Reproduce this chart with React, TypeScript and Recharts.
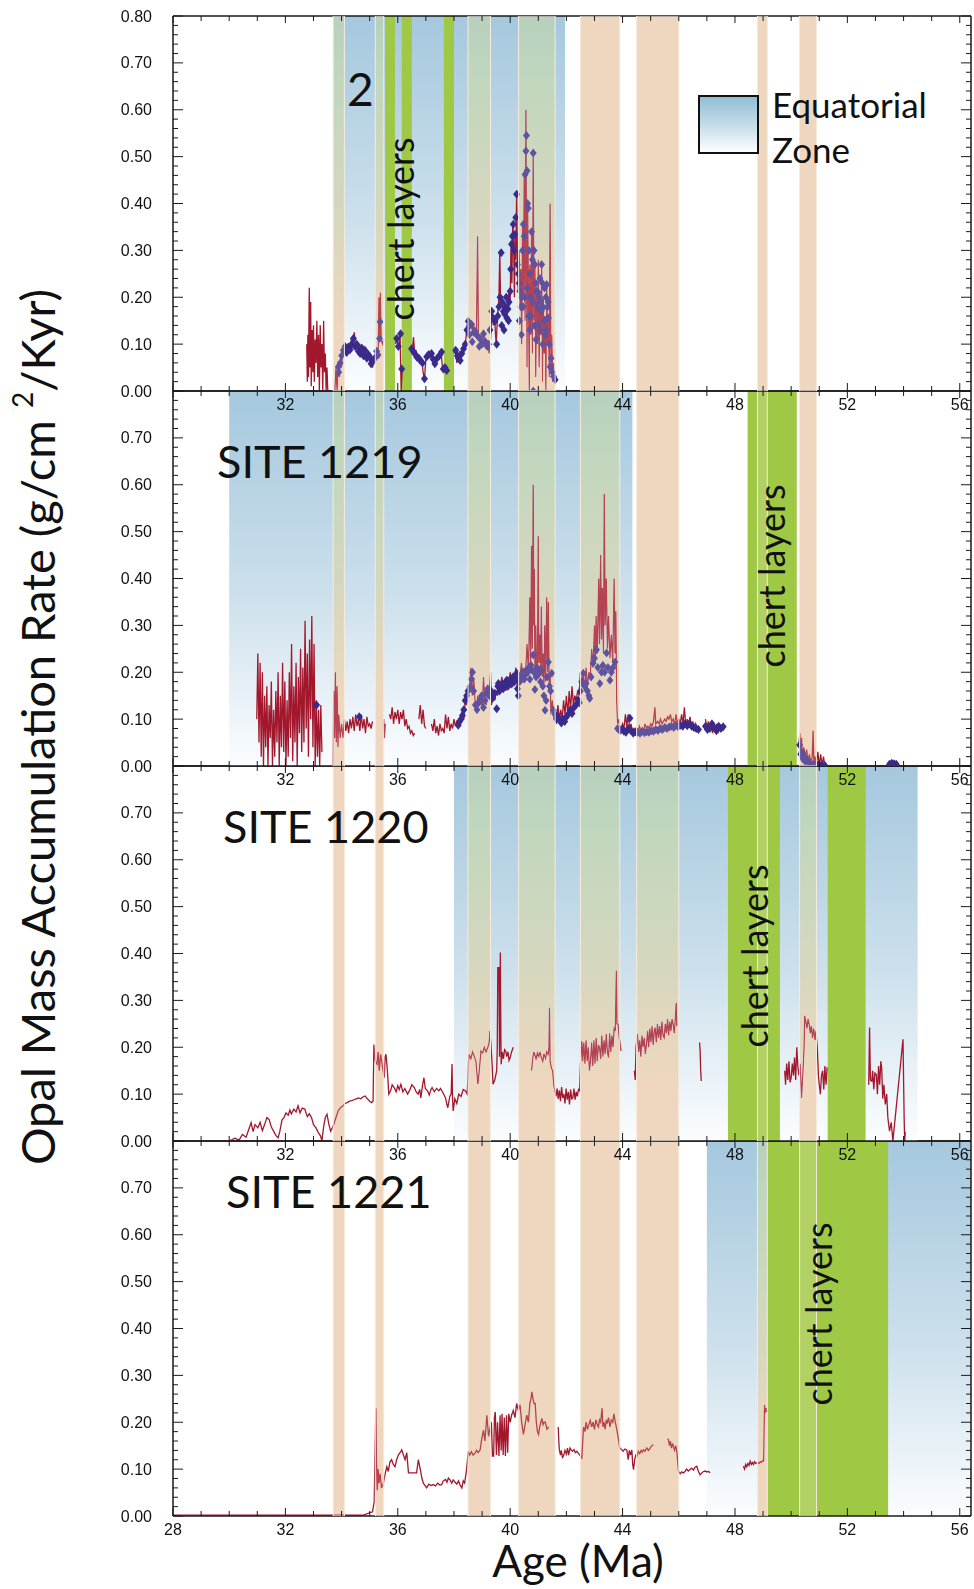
import React from 'react';
import {
  ComposedChart,
  Line,
  Scatter,
  XAxis,
  YAxis,
  ReferenceArea,
} from 'recharts';

type Pair = [number, number | null];
type Span = [number, number];

// axis ticks
const ageTicks = [28, 29, 30, 31, 32, 33, 34, 35, 36, 37, 38, 39, 40, 41, 42, 43, 44, 45, 46, 47, 48, 49, 50, 51, 52, 53, 54, 55, 56];
const ageLabelTicks = [28, 32, 36, 40, 44, 48, 52, 56];
const marTicks = [0, 0.02, 0.04, 0.06, 0.08, 0.1, 0.12, 0.14, 0.16, 0.18, 0.2, 0.22, 0.24, 0.26, 0.28, 0.3, 0.32, 0.34, 0.36, 0.38, 0.4, 0.42, 0.44, 0.46, 0.48, 0.5, 0.52, 0.54, 0.56, 0.58, 0.6, 0.62, 0.64, 0.66, 0.68, 0.7, 0.72, 0.74, 0.76, 0.78, 0.8];
const marLabelTicks = [0, 0.1, 0.2, 0.3, 0.4, 0.5, 0.6, 0.7, 0.8];

// shaded intervals (Ma)
const warmEvents: Span[] = [[33.7, 34.1], [35.2, 35.5], [38.5, 39.3], [40.3, 41.6], [42.5, 43.9], [44.5, 46.0], [48.8, 49.15], [50.3, 50.9]];
const zone1218: Span[] = [[33.7, 41.95]];
const chert1218: Span[] = [[35.55, 35.9], [36.14, 36.5], [37.64, 38.0]];
const zone1219: Span[] = [[30.0, 44.35]];
const chert1219: Span[] = [[48.45, 50.2]];
const zone1220: Span[] = [[38.0, 54.5]];
const chert1220: Span[] = [[47.75, 49.6], [51.3, 52.65]];
const zone1221: Span[] = [[47.0, 56.4]];
const chert1221: Span[] = [[49.15, 53.45]];

// panel 1 (site "2")
const site1218Line: Pair[] = [
  [32.76, 0.1], [32.78, 0.02], [32.8, 0.12], [32.82, 0.03], [32.85, 0.22], [32.87, 0.05], [32.9, 0.19], [32.92, 0.01], [32.95, 0.13], [32.98, 0.04], [33.0, 0.14], [33.03, 0.02], [33.06, 0.11], [33.09, 0.06], [33.12, 0.15], [33.15, 0.03], [33.18, 0.12], [33.21, 0.0], [33.24, 0.14], [33.27, 0.05], [33.3, 0.1], [33.33, 0.0], [33.36, 0.15], [33.39, 0.04], [33.42, 0.08], [33.45, 0.0], [33.48, 0.05], [33.51, 0.0],
  [33.6, null],
  [33.76, 0.0], [33.8, 0.05], [33.84, 0.0], [33.88, 0.06], [33.92, 0.03], [33.96, 0.07], [34.0, 0.05], [34.04, 0.09], [34.08, 0.08], [34.1, 0.085], [34.15, 0.095], [34.2, 0.08], [34.25, 0.1], [34.3, 0.09], [34.35, 0.11], [34.4, 0.1], [34.45, 0.125], [34.5, 0.09], [34.55, 0.105], [34.6, 0.085], [34.65, 0.1], [34.7, 0.075], [34.75, 0.095], [34.8, 0.08], [34.85, 0.09], [34.9, 0.065], [34.95, 0.08], [35.0, 0.06], [35.05, 0.075], [35.1, 0.05], [35.15, 0.07], [35.2, 0.06], [35.25, 0.09], [35.3, 0.08], [35.33, 0.2], [35.36, 0.12], [35.38, 0.21], [35.41, 0.11], [35.45, 0.1], [35.5, 0.11],
  [35.7, null],
  [35.92, 0.1], [35.96, 0.115], [36.02, 0.09], [36.08, 0.125], [36.12, 0.0], [36.16, 0.05],
  [36.3, null],
  [36.52, 0.09], [36.56, 0.115], [36.6, 0.08], [36.65, 0.085], [36.7, 0.07], [36.75, 0.075], [36.8, 0.06], [36.85, 0.07], [36.9, 0.04], [36.95, 0.025], [37.0, 0.07], [37.05, 0.075], [37.1, 0.085], [37.15, 0.07], [37.2, 0.08], [37.25, 0.065], [37.3, 0.055], [37.35, 0.065], [37.4, 0.075], [37.45, 0.08], [37.5, 0.085], [37.55, 0.075], [37.6, 0.045], [37.64, 0.05],
  [37.8, null],
  [38.0, 0.08], [38.05, 0.09], [38.1, 0.06], [38.15, 0.075], [38.2, 0.085], [38.25, 0.07], [38.3, 0.09], [38.35, 0.1], [38.4, 0.095], [38.45, 0.13], [38.5, 0.15], [38.55, 0.14], [38.6, 0.15], [38.65, 0.13], [38.7, 0.14], [38.75, 0.12], [38.8, 0.13], [38.84, 0.33], [38.87, 0.12], [38.9, 0.11], [38.95, 0.12], [39.0, 0.1], [39.05, 0.125], [39.1, 0.11], [39.15, 0.09], [39.2, 0.105], [39.25, 0.08], [39.3, 0.11], [39.35, 0.17], [39.4, 0.14], [39.45, 0.15], [39.5, 0.1], [39.55, 0.16], [39.6, 0.2], [39.63, 0.3], [39.66, 0.18], [39.7, 0.2], [39.75, 0.16], [39.8, 0.19], [39.85, 0.15], [39.9, 0.17], [39.95, 0.21], [40.0, 0.19], [40.03, 0.32], [40.06, 0.23], [40.09, 0.36], [40.12, 0.33], [40.15, 0.2], [40.18, 0.34], [40.2, 0.28], [40.23, 0.42], [40.26, 0.27], [40.29, 0.21], [40.32, 0.3], [40.35, 0.18], [40.38, 0.26], [40.41, 0.1], [40.44, 0.35], [40.47, 0.2], [40.5, 0.46], [40.53, 0.15], [40.56, 0.6], [40.58, 0.3], [40.6, 0.05], [40.62, 0.4], [40.65, 0.22], [40.68, 0.0], [40.7, 0.27], [40.73, 0.12], [40.76, 0.34], [40.79, 0.08], [40.82, 0.5], [40.85, 0.15], [40.88, 0.27], [40.91, 0.03], [40.94, 0.22], [40.97, 0.1], [41.0, 0.28], [41.03, 0.05], [41.06, 0.18], [41.09, 0.12], [41.12, 0.27], [41.15, 0.02], [41.18, 0.2], [41.21, 0.08], [41.24, 0.16], [41.27, 0.0], [41.3, 0.23], [41.33, 0.1], [41.36, 0.16], [41.39, 0.03], [41.42, 0.4], [41.45, 0.05], [41.48, 0.12], [41.51, 0.02], [41.54, 0.06], [41.57, 0.02], [41.6, 0.03],
];

const site1218Dots: Pair[] = [
  [33.88, 0.052], [33.9, 0.04], [33.95, 0.06], [34.0, 0.075], [34.06, 0.087], [34.12, 0.095], [34.18, 0.082], [34.24, 0.094], [34.3, 0.088], [34.36, 0.1], [34.42, 0.112], [34.48, 0.095], [34.54, 0.1], [34.6, 0.085], [34.66, 0.08], [34.72, 0.092], [34.78, 0.075], [34.83, 0.087], [34.9, 0.07], [34.95, 0.078], [35.0, 0.073], [35.05, 0.058], [35.1, 0.062], [35.18, 0.07], [35.25, 0.085], [35.3, 0.077], [35.35, 0.112], [35.37, 0.148],
  [35.96, 0.112], [36.02, 0.095], [36.1, 0.122], [36.14, 0.047], [36.49, 0.09], [36.55, 0.085], [36.6, 0.08], [36.68, 0.072], [36.75, 0.07], [36.8, 0.065], [36.88, 0.06], [36.95, 0.026], [37.03, 0.073], [37.1, 0.078], [37.2, 0.08], [37.26, 0.068], [37.32, 0.058], [37.4, 0.07], [37.48, 0.075], [37.56, 0.083], [37.62, 0.047], [37.68, 0.05], [37.74, 0.044],
  [38.06, 0.087], [38.12, 0.075], [38.16, 0.07], [38.22, 0.065], [38.28, 0.08], [38.34, 0.09], [38.4, 0.1], [38.46, 0.13], [38.51, 0.149], [38.55, 0.12], [38.56, 0.14], [38.63, 0.142], [38.65, 0.105], [38.7, 0.125], [38.75, 0.128], [38.8, 0.12], [38.87, 0.115], [38.9, 0.095], [38.95, 0.11], [39.0, 0.1], [39.05, 0.122], [39.12, 0.105], [39.18, 0.095], [39.23, 0.1], [39.28, 0.13], [39.34, 0.17], [39.4, 0.155], [39.46, 0.149], [39.52, 0.1], [39.56, 0.16], [39.6, 0.18], [39.64, 0.2], [39.68, 0.295], [39.7, 0.14], [39.72, 0.19], [39.76, 0.17], [39.78, 0.13], [39.8, 0.165], [39.84, 0.18], [39.86, 0.2], [39.88, 0.156], [39.92, 0.175], [39.94, 0.15], [39.96, 0.19],
  [40.0, 0.213], [40.02, 0.26], [40.05, 0.313], [40.08, 0.33], [40.11, 0.356], [40.14, 0.3], [40.17, 0.334], [40.2, 0.37], [40.23, 0.42], [40.26, 0.27], [40.29, 0.25], [40.32, 0.23], [40.33, 0.15], [40.35, 0.213], [40.38, 0.18], [40.4, 0.12], [40.41, 0.2], [40.44, 0.3], [40.46, 0.18], [40.47, 0.356], [40.5, 0.33], [40.52, 0.2], [40.53, 0.462], [40.56, 0.512], [40.58, 0.545], [40.6, 0.47], [40.6, 0.22], [40.62, 0.4], [40.64, 0.39], [40.66, 0.16], [40.67, 0.3], [40.7, 0.25], [40.7, 0.13], [40.72, 0.2], [40.74, 0.16], [40.76, 0.34], [40.79, 0.28], [40.8, 0.19], [40.82, 0.508], [40.82, 0.0], [40.85, 0.3], [40.86, 0.14], [40.88, 0.27], [40.91, 0.23], [40.92, 0.11], [40.94, 0.213], [40.97, 0.18], [41.0, 0.142], [41.0, 0.21], [41.03, 0.2], [41.05, 0.13], [41.06, 0.24], [41.09, 0.19], [41.1, 0.17], [41.12, 0.27], [41.15, 0.23], [41.16, 0.1], [41.18, 0.178], [41.21, 0.15], [41.22, 0.22], [41.24, 0.12], [41.27, 0.2], [41.28, 0.13], [41.3, 0.227], [41.33, 0.18], [41.35, 0.19], [41.36, 0.156], [41.39, 0.1], [41.42, 0.052], [41.46, 0.07], [41.5, 0.04], [41.54, 0.031], [41.6, 0.024],
];

// panel 2, SITE 1219
const site1219Line: Pair[] = [
  [30.98, 0.1], [31.02, 0.24], [31.06, 0.05], [31.1, 0.22], [31.14, 0.02], [31.18, 0.2], [31.22, 0.0], [31.26, 0.15], [31.3, 0.04], [31.34, 0.17], [31.38, 0.0], [31.42, 0.13], [31.46, 0.06], [31.5, 0.18], [31.54, 0.0], [31.58, 0.12], [31.62, 0.02], [31.66, 0.16], [31.7, 0.05], [31.74, 0.2], [31.78, 0.0], [31.82, 0.15], [31.86, 0.04], [31.9, 0.22], [31.94, 0.03], [31.98, 0.18], [32.02, 0.0], [32.06, 0.14], [32.1, 0.02], [32.14, 0.2], [32.18, 0.06], [32.22, 0.26], [32.26, 0.01], [32.3, 0.17], [32.34, 0.05], [32.38, 0.22], [32.42, 0.0], [32.46, 0.19], [32.5, 0.07], [32.54, 0.25], [32.58, 0.03], [32.62, 0.21], [32.66, 0.05], [32.7, 0.31], [32.74, 0.08], [32.78, 0.24], [32.82, 0.02], [32.86, 0.27], [32.9, 0.1], [32.94, 0.32], [32.98, 0.04], [33.02, 0.26], [33.06, 0.0], [33.1, 0.14], [33.14, 0.02], [33.18, 0.12], [33.22, 0.0], [33.26, 0.13], [33.3, 0.03],
  [33.5, null],
  [33.7, 0.0], [33.72, 0.16], [33.75, 0.06], [33.78, 0.2], [33.81, 0.05], [33.84, 0.17], [33.87, 0.04], [33.9, 0.11], [33.95, 0.06], [34.0, 0.09], [34.05, 0.06], [34.1, 0.1], [34.15, 0.075], [34.2, 0.095], [34.25, 0.07], [34.3, 0.1], [34.35, 0.08], [34.4, 0.105], [34.45, 0.075], [34.5, 0.11], [34.55, 0.085], [34.6, 0.1], [34.65, 0.075], [34.7, 0.11], [34.75, 0.08], [34.8, 0.1], [34.85, 0.07], [34.9, 0.105], [34.95, 0.085], [35.0, 0.09], [35.05, 0.08], [35.1, 0.095],
  [35.3, null],
  [35.5, 0.1], [35.52, 0.06], [35.55, 0.09],
  [35.62, null],
  [35.7, 0.11], [35.75, 0.1], [35.8, 0.125], [35.85, 0.09], [35.9, 0.115], [35.95, 0.1], [36.0, 0.12], [36.05, 0.09], [36.1, 0.115], [36.15, 0.1], [36.2, 0.12], [36.25, 0.085], [36.3, 0.1], [36.35, 0.08], [36.4, 0.085], [36.45, 0.07], [36.5, 0.075], [36.55, 0.065], [36.6, 0.07],
  [36.68, null],
  [36.75, 0.1], [36.8, 0.13], [36.85, 0.09], [36.9, 0.12], [36.95, 0.085], [37.0, 0.08],
  [37.1, null],
  [37.2, 0.09], [37.25, 0.075], [37.3, 0.1], [37.35, 0.07], [37.4, 0.085], [37.45, 0.065], [37.5, 0.09], [37.55, 0.075], [37.6, 0.08], [37.65, 0.07], [37.7, 0.11], [37.75, 0.08], [37.8, 0.105], [37.85, 0.075], [37.9, 0.09], [37.95, 0.08], [38.0, 0.1], [38.05, 0.085], [38.1, 0.095], [38.15, 0.09],
  [38.2, 0.1], [38.25, 0.105], [38.3, 0.12], [38.35, 0.1], [38.4, 0.14], [38.45, 0.13], [38.5, 0.17], [38.55, 0.16], [38.6, 0.21], [38.65, 0.15], [38.7, 0.19], [38.75, 0.14], [38.8, 0.13], [38.85, 0.15], [38.9, 0.13], [38.95, 0.14], [39.0, 0.12], [39.05, 0.19], [39.1, 0.14], [39.15, 0.13], [39.2, 0.16], [39.25, 0.15], [39.3, 0.2], [39.33, 0.13], [39.4, 0.15], [39.45, 0.14], [39.5, 0.16], [39.55, 0.15], [39.6, 0.17], [39.65, 0.16], [39.7, 0.19], [39.75, 0.17], [39.8, 0.18], [39.85, 0.16], [39.9, 0.19], [39.95, 0.17], [40.0, 0.2], [40.05, 0.17], [40.1, 0.19], [40.15, 0.18], [40.2, 0.21], [40.25, 0.17], [40.3, 0.2], [40.35, 0.19], [40.4, 0.22], [40.45, 0.19], [40.5, 0.21], [40.55, 0.2], [40.6, 0.26], [40.65, 0.2], [40.7, 0.36], [40.73, 0.22], [40.76, 0.47], [40.79, 0.25], [40.82, 0.6], [40.84, 0.3], [40.86, 0.42], [40.88, 0.2], [40.91, 0.3], [40.94, 0.19], [40.97, 0.22], [41.0, 0.49], [41.02, 0.22], [41.05, 0.28], [41.08, 0.2], [41.11, 0.34], [41.14, 0.19], [41.17, 0.24], [41.2, 0.17], [41.23, 0.3], [41.26, 0.18], [41.3, 0.36], [41.33, 0.2], [41.36, 0.35], [41.39, 0.16], [41.42, 0.2], [41.45, 0.11], [41.5, 0.14], [41.55, 0.1], [41.6, 0.12], [41.65, 0.09], [41.7, 0.13], [41.75, 0.1], [41.8, 0.12], [41.85, 0.1], [41.9, 0.14], [41.95, 0.11], [42.0, 0.15], [42.05, 0.11], [42.1, 0.16], [42.15, 0.12], [42.2, 0.17], [42.25, 0.13], [42.3, 0.15], [42.35, 0.14], [42.4, 0.16], [42.45, 0.15], [42.5, 0.2], [42.55, 0.17], [42.6, 0.2], [42.65, 0.16], [42.7, 0.21], [42.75, 0.17], [42.8, 0.2], [42.85, 0.19], [42.9, 0.25], [42.95, 0.21], [43.0, 0.3], [43.03, 0.22], [43.06, 0.32], [43.1, 0.24], [43.15, 0.4], [43.18, 0.26], [43.22, 0.45], [43.25, 0.27], [43.28, 0.38], [43.32, 0.24], [43.35, 0.58], [43.38, 0.3], [43.42, 0.4], [43.46, 0.25], [43.5, 0.32], [43.55, 0.23], [43.6, 0.28], [43.65, 0.22], [43.7, 0.4], [43.73, 0.24], [43.76, 0.33], [43.79, 0.14], [43.82, 0.09], [43.86, 0.1], [43.9, 0.085],
  [43.95, 0.08], [44.0, 0.09], [44.05, 0.08], [44.1, 0.11], [44.15, 0.085], [44.2, 0.11], [44.25, 0.08], [44.3, 0.09], [44.35, 0.075], [44.4, 0.08], [44.45, 0.07], [44.5, 0.08], [44.55, 0.075], [44.6, 0.085], [44.65, 0.075], [44.7, 0.08], [44.75, 0.075], [44.8, 0.09], [44.85, 0.08], [44.9, 0.085], [44.95, 0.08], [45.0, 0.09], [45.05, 0.085], [45.1, 0.095], [45.15, 0.125], [45.18, 0.09], [45.25, 0.095], [45.3, 0.09], [45.35, 0.1], [45.4, 0.09], [45.45, 0.095], [45.5, 0.1], [45.55, 0.095], [45.6, 0.105], [45.65, 0.1], [45.7, 0.11], [45.75, 0.095], [45.8, 0.1], [45.85, 0.085], [45.9, 0.11], [45.95, 0.09], [46.0, 0.1], [46.05, 0.09], [46.1, 0.11], [46.15, 0.09], [46.2, 0.125], [46.25, 0.085], [46.3, 0.1], [46.35, 0.09], [46.4, 0.105], [46.45, 0.085], [46.5, 0.095], [46.55, 0.08], [46.6, 0.09], [46.65, 0.08], [46.7, 0.085],
  [46.82, null],
  [46.95, 0.1], [47.0, 0.08], [47.05, 0.095], [47.1, 0.075], [47.15, 0.09], [47.2, 0.07], [47.25, 0.085], [47.3, 0.075], [47.35, 0.09], [47.4, 0.07], [47.45, 0.085], [47.5, 0.075],
  [48.0, null],
  [50.28, 0.05], [50.31, 0.07], [50.34, 0.02], [50.37, 0.06], [50.4, 0.01], [50.45, 0.04], [50.5, 0.02], [50.55, 0.035], [50.6, 0.01], [50.65, 0.025], [50.7, 0.005], [50.75, 0.02], [50.78, 0.075], [50.81, 0.005], [50.85, 0.02], [50.9, 0.0], [50.95, 0.03], [51.0, 0.0], [51.05, 0.025], [51.1, 0.0], [51.15, 0.02], [51.2, 0.0],
];

const site1219Dots: Pair[] = [
  [33.11, 0.13], [34.63, 0.105],
  [38.15, 0.087], [38.2, 0.095], [38.25, 0.1], [38.3, 0.108], [38.35, 0.12], [38.4, 0.14], [38.45, 0.15], [38.5, 0.16], [38.57, 0.169], [38.62, 0.185], [38.66, 0.2], [38.7, 0.16], [38.76, 0.13], [38.82, 0.12], [38.88, 0.135], [38.93, 0.141], [38.98, 0.15], [39.05, 0.125], [39.1, 0.14], [39.15, 0.155], [39.2, 0.165], [39.26, 0.15], [39.32, 0.16], [39.38, 0.145], [39.45, 0.155], [39.52, 0.122], [39.56, 0.17], [39.58, 0.176], [39.62, 0.16], [39.66, 0.168], [39.7, 0.175], [39.75, 0.165], [39.8, 0.172], [39.84, 0.18], [39.88, 0.183], [39.92, 0.17], [39.96, 0.178], [40.0, 0.185], [40.05, 0.175], [40.1, 0.19], [40.15, 0.18], [40.2, 0.185], [40.23, 0.198], [40.26, 0.165], [40.29, 0.15], [40.34, 0.18], [40.4, 0.19], [40.45, 0.2], [40.5, 0.185], [40.55, 0.195], [40.59, 0.205], [40.63, 0.2], [40.67, 0.21], [40.7, 0.185], [40.74, 0.215], [40.78, 0.205], [40.82, 0.237], [40.85, 0.2], [40.88, 0.163], [40.92, 0.19], [40.96, 0.21], [41.0, 0.195], [41.04, 0.2], [41.08, 0.18], [41.12, 0.205], [41.16, 0.17], [41.2, 0.15], [41.24, 0.119], [41.28, 0.14], [41.32, 0.19], [41.36, 0.222], [41.4, 0.17], [41.44, 0.16], [41.48, 0.198], [41.54, 0.119], [41.6, 0.11], [41.65, 0.1], [41.7, 0.105], [41.77, 0.098], [41.82, 0.092], [41.88, 0.1], [41.94, 0.095], [42.0, 0.105], [42.06, 0.11], [42.13, 0.119], [42.2, 0.112], [42.27, 0.125], [42.34, 0.13], [42.42, 0.141], [42.46, 0.135], [42.5, 0.16], [42.55, 0.18], [42.6, 0.198], [42.65, 0.17], [42.7, 0.176], [42.75, 0.16], [42.8, 0.15], [42.83, 0.144], [42.88, 0.19], [42.95, 0.219], [43.0, 0.23], [43.07, 0.248], [43.12, 0.21], [43.19, 0.176], [43.25, 0.2], [43.3, 0.215], [43.36, 0.2], [43.43, 0.241], [43.48, 0.21], [43.55, 0.183], [43.6, 0.2], [43.66, 0.21], [43.73, 0.222],
  [43.82, 0.08], [43.9, 0.075], [43.98, 0.078], [44.05, 0.074], [44.12, 0.072], [44.2, 0.08], [44.26, 0.102], [44.3, 0.075], [44.38, 0.07], [44.46, 0.073], [44.54, 0.072], [44.62, 0.07], [44.7, 0.074], [44.78, 0.071], [44.86, 0.073], [44.94, 0.072], [45.02, 0.075], [45.1, 0.074], [45.18, 0.078], [45.26, 0.076], [45.34, 0.08], [45.42, 0.078], [45.5, 0.082], [45.58, 0.08], [45.66, 0.083], [45.74, 0.085], [45.82, 0.082], [45.9, 0.086], [45.98, 0.084], [46.06, 0.087], [46.14, 0.085], [46.22, 0.09], [46.3, 0.086], [46.38, 0.09], [46.46, 0.085], [46.54, 0.082], [46.62, 0.08], [46.7, 0.078], [46.95, 0.085], [47.02, 0.078], [47.1, 0.08], [47.18, 0.09], [47.26, 0.082], [47.34, 0.075], [47.42, 0.085], [47.5, 0.08], [47.58, 0.084],
  [50.3, 0.045], [50.34, 0.025], [50.38, 0.03], [50.42, 0.015], [50.46, 0.02], [50.5, 0.01], [50.56, 0.012], [50.62, 0.008], [50.7, 0.006], [50.8, 0.004], [50.9, 0.003], [51.0, 0.002], [51.1, 0.002], [51.2, 0.001],
  [53.5, 0.004], [53.58, 0.006], [53.66, 0.005], [53.74, 0.004],
];

// panel 3, SITE 1220
const site1220Line: Pair[] = [
  [30.0, 0.0], [30.2, 0.006], [30.35, 0.002], [30.47, 0.014], [30.6, 0.008], [30.78, 0.039], [30.85, 0.02], [30.92, 0.035], [31.02, 0.028], [31.1, 0.04], [31.18, 0.022], [31.26, 0.035], [31.34, 0.05], [31.42, 0.046], [31.5, 0.03], [31.58, 0.021], [31.66, 0.012], [31.74, 0.007], [31.8, 0.02], [31.88, 0.045], [31.95, 0.05], [32.02, 0.06], [32.1, 0.055], [32.16, 0.066], [32.21, 0.058], [32.3, 0.068], [32.38, 0.062], [32.45, 0.075], [32.52, 0.06], [32.6, 0.07], [32.69, 0.068], [32.78, 0.052], [32.85, 0.058], [32.93, 0.05], [33.0, 0.035], [33.09, 0.028], [33.17, 0.018], [33.25, 0.011], [33.3, 0.0], [33.36, 0.03], [33.42, 0.05], [33.48, 0.057], [33.55, 0.035], [33.61, 0.021], [33.67, 0.028], [33.72, 0.035], [33.8, 0.05], [33.88, 0.065], [33.96, 0.071], [34.05, 0.075], [34.12, 0.08], [34.2, 0.082], [34.28, 0.085], [34.36, 0.086], [34.44, 0.088], [34.52, 0.09], [34.6, 0.092], [34.68, 0.09], [34.76, 0.094], [34.84, 0.096], [34.92, 0.09], [35.0, 0.085], [35.07, 0.082], [35.12, 0.085], [35.15, 0.206], [35.2, 0.17], [35.26, 0.164], [35.3, 0.19], [35.34, 0.15], [35.39, 0.185], [35.45, 0.16], [35.52, 0.135], [35.55, 0.18], [35.58, 0.185], [35.63, 0.15], [35.68, 0.1], [35.75, 0.108], [35.8, 0.12], [35.87, 0.114], [35.94, 0.105], [36.0, 0.118], [36.05, 0.11], [36.11, 0.121], [36.18, 0.105], [36.25, 0.112], [36.35, 0.1], [36.42, 0.108], [36.5, 0.12], [36.59, 0.114], [36.65, 0.105], [36.72, 0.1], [36.78, 0.11], [36.82, 0.092], [36.88, 0.118], [36.93, 0.135], [36.98, 0.112], [37.06, 0.107], [37.12, 0.098], [37.18, 0.11], [37.22, 0.114], [37.3, 0.105], [37.38, 0.112], [37.46, 0.107], [37.52, 0.112], [37.6, 0.104], [37.7, 0.092], [37.74, 0.08], [37.78, 0.071], [37.85, 0.095], [37.9, 0.1], [37.93, 0.164], [37.95, 0.09], [37.97, 0.064], [38.03, 0.09], [38.1, 0.08], [38.17, 0.1], [38.25, 0.095], [38.33, 0.11], [38.41, 0.107], [38.47, 0.1], [38.53, 0.185], [38.6, 0.175], [38.66, 0.19], [38.72, 0.181], [38.78, 0.17], [38.85, 0.121], [38.9, 0.15], [38.96, 0.192], [39.02, 0.188], [39.08, 0.2], [39.14, 0.19], [39.2, 0.199], [39.25, 0.21], [39.28, 0.235], [39.32, 0.2], [39.36, 0.16], [39.39, 0.121], [39.45, 0.13], [39.52, 0.15], [39.54, 0.2], [39.56, 0.37], [39.6, 0.37], [39.62, 0.18], [39.65, 0.402], [39.67, 0.21], [39.68, 0.164], [39.72, 0.19], [39.76, 0.175], [39.8, 0.195], [39.84, 0.192], [39.88, 0.18], [39.92, 0.19], [39.96, 0.172], [40.0, 0.178], [40.05, 0.19], [40.11, 0.2],
  [40.4, null],
  [40.76, 0.15], [40.8, 0.175], [40.84, 0.19], [40.87, 0.185], [40.92, 0.175], [40.97, 0.188], [41.02, 0.18], [41.06, 0.19], [41.11, 0.178], [41.16, 0.17], [41.2, 0.186], [41.26, 0.176], [41.3, 0.19], [41.35, 0.185], [41.38, 0.2], [41.4, 0.284], [41.42, 0.17], [41.47, 0.155], [41.51, 0.15], [41.55, 0.12], [41.59, 0.107], [41.63, 0.095], [41.67, 0.112], [41.71, 0.09], [41.75, 0.108], [41.79, 0.085], [41.83, 0.115], [41.87, 0.092], [41.91, 0.1], [41.95, 0.08], [41.99, 0.112], [42.03, 0.088], [42.07, 0.105], [42.11, 0.078], [42.15, 0.11], [42.19, 0.09], [42.23, 0.092], [42.27, 0.112], [42.31, 0.088], [42.35, 0.105], [42.39, 0.095], [42.43, 0.11], [42.47, 0.107], [42.5, 0.16], [42.53, 0.2], [42.55, 0.213], [42.58, 0.17], [42.62, 0.21], [42.66, 0.165], [42.7, 0.215], [42.74, 0.17], [42.78, 0.2], [42.82, 0.15], [42.86, 0.171], [42.9, 0.21], [42.94, 0.16], [42.98, 0.215], [43.02, 0.165], [43.06, 0.22], [43.1, 0.17], [43.14, 0.205], [43.18, 0.199], [43.22, 0.175], [43.26, 0.225], [43.3, 0.18], [43.34, 0.215], [43.38, 0.185], [43.42, 0.228], [43.46, 0.19], [43.5, 0.178], [43.54, 0.23], [43.58, 0.19], [43.62, 0.225], [43.66, 0.2], [43.7, 0.24], [43.74, 0.235], [43.78, 0.363], [43.8, 0.25], [43.84, 0.249], [43.88, 0.22], [43.92, 0.205], [43.94, 0.192],
  [44.2, null],
  [44.42, 0.15], [44.45, 0.13], [44.48, 0.2], [44.53, 0.228], [44.57, 0.19], [44.61, 0.215], [44.65, 0.18], [44.69, 0.225], [44.73, 0.2], [44.77, 0.22], [44.81, 0.185], [44.85, 0.206], [44.89, 0.235], [44.93, 0.2], [44.97, 0.24], [45.01, 0.21], [45.05, 0.245], [45.09, 0.205], [45.13, 0.235], [45.16, 0.242], [45.2, 0.21], [45.24, 0.25], [45.28, 0.22], [45.32, 0.245], [45.36, 0.215], [45.4, 0.255], [45.44, 0.225], [45.48, 0.22], [45.52, 0.25], [45.56, 0.23], [45.6, 0.26], [45.64, 0.225], [45.68, 0.255], [45.72, 0.235], [45.76, 0.26], [45.8, 0.249], [45.84, 0.23], [45.88, 0.265], [45.91, 0.295], [45.93, 0.245],
  [46.3, null],
  [46.74, 0.21], [46.76, 0.192], [46.78, 0.15], [46.8, 0.128],
  [47.5, null],
  [49.77, 0.15], [49.8, 0.12], [49.84, 0.165], [49.88, 0.13], [49.92, 0.17], [49.96, 0.125], [50.0, 0.135], [50.04, 0.165], [50.08, 0.14], [50.12, 0.178], [50.16, 0.13], [50.2, 0.2], [50.24, 0.157], [50.28, 0.14], [50.32, 0.165], [50.37, 0.092], [50.42, 0.15], [50.46, 0.2], [50.48, 0.267], [50.52, 0.255], [50.56, 0.24], [50.6, 0.26], [50.64, 0.249], [50.68, 0.23], [50.72, 0.245], [50.76, 0.22], [50.8, 0.24], [50.85, 0.215], [50.88, 0.235], [50.93, 0.199], [50.97, 0.14], [51.0, 0.12], [51.04, 0.1], [51.08, 0.14], [51.12, 0.15], [51.16, 0.11], [51.2, 0.16], [51.24, 0.12], [51.28, 0.157],
  [52.0, null],
  [52.76, 0.12], [52.79, 0.242], [52.82, 0.13], [52.87, 0.128], [52.9, 0.15], [52.94, 0.11], [52.98, 0.145], [53.03, 0.142], [53.07, 0.1], [53.11, 0.16], [53.15, 0.12], [53.19, 0.17], [53.22, 0.157], [53.26, 0.09], [53.3, 0.12], [53.35, 0.078], [53.4, 0.1], [53.44, 0.05], [53.5, 0.021], [53.56, 0.04], [53.62, 0.0], [53.98, 0.217], [54.02, 0.05], [54.04, 0.0], [54.06, 0.02],
];

// panel 4, SITE 1221
const site1221Line: Pair[] = [
  [28.0, 0.002], [34.77, 0.002], [35.1, 0.009], [35.16, 0.03], [35.19, 0.134], [35.22, 0.23], [35.24, 0.12], [35.27, 0.055], [35.3, 0.1], [35.33, 0.07], [35.37, 0.09], [35.42, 0.06], [35.49, 0.07], [35.55, 0.09], [35.61, 0.105], [35.66, 0.095], [35.72, 0.115], [35.78, 0.12], [35.84, 0.11], [35.9, 0.105], [35.96, 0.12], [36.02, 0.13], [36.08, 0.135], [36.14, 0.141], [36.2, 0.13], [36.26, 0.12], [36.32, 0.135], [36.38, 0.092], [36.45, 0.092], [36.52, 0.092], [36.6, 0.092], [36.67, 0.092], [36.73, 0.12], [36.8, 0.1], [36.86, 0.08], [36.91, 0.07], [36.97, 0.065], [37.03, 0.06], [37.1, 0.068], [37.18, 0.065], [37.26, 0.067], [37.34, 0.064], [37.42, 0.07], [37.5, 0.066], [37.56, 0.067], [37.62, 0.075], [37.7, 0.078], [37.75, 0.072], [37.8, 0.081], [37.87, 0.076], [37.92, 0.07], [37.97, 0.077], [38.04, 0.072], [38.1, 0.068], [38.16, 0.075], [38.21, 0.067], [38.28, 0.06], [38.33, 0.075], [38.38, 0.07], [38.45, 0.1], [38.51, 0.138], [38.56, 0.13], [38.62, 0.137], [38.68, 0.13], [38.75, 0.134], [38.8, 0.14], [38.86, 0.135], [38.93, 0.141], [38.99, 0.165], [39.05, 0.183], [39.1, 0.16], [39.17, 0.215], [39.23, 0.17], [39.29, 0.19], [39.33, 0.2], [39.37, 0.128], [39.41, 0.128], [39.44, 0.21], [39.47, 0.222], [39.51, 0.13], [39.55, 0.2], [39.6, 0.128], [39.64, 0.215], [39.68, 0.14], [39.71, 0.218], [39.75, 0.13], [39.79, 0.21], [39.83, 0.128], [39.87, 0.215], [39.91, 0.135], [39.95, 0.218], [40.0, 0.2], [40.05, 0.215], [40.11, 0.225], [40.17, 0.21], [40.23, 0.24], [40.29, 0.225], [40.35, 0.237], [40.41, 0.2], [40.47, 0.174], [40.53, 0.195], [40.59, 0.215], [40.65, 0.2], [40.7, 0.24], [40.74, 0.25], [40.77, 0.265], [40.81, 0.25], [40.85, 0.24], [40.89, 0.24], [40.93, 0.2], [40.97, 0.18], [41.01, 0.174], [41.05, 0.19], [41.09, 0.2], [41.13, 0.208], [41.17, 0.195], [41.21, 0.2], [41.25, 0.2], [41.31, 0.185], [41.37, 0.19],
  [41.55, null],
  [41.71, 0.19], [41.73, 0.16], [41.75, 0.141], [41.79, 0.13], [41.82, 0.14], [41.86, 0.125], [41.9, 0.128], [41.95, 0.14], [42.0, 0.132], [42.04, 0.145], [42.08, 0.13], [42.13, 0.145], [42.18, 0.14], [42.22, 0.138], [42.27, 0.142], [42.32, 0.135], [42.37, 0.138], [42.45, 0.132], [42.55, 0.124], [42.61, 0.19], [42.66, 0.18], [42.7, 0.2], [42.75, 0.185], [42.8, 0.195], [42.85, 0.204], [42.9, 0.19], [42.95, 0.2], [43.0, 0.185], [43.05, 0.205], [43.09, 0.197], [43.14, 0.19], [43.18, 0.205], [43.22, 0.2], [43.27, 0.23], [43.3, 0.19], [43.34, 0.2], [43.38, 0.185], [43.42, 0.205], [43.45, 0.197], [43.5, 0.21], [43.55, 0.19], [43.6, 0.205], [43.65, 0.2], [43.69, 0.218], [43.74, 0.2], [43.8, 0.183], [43.85, 0.165], [43.9, 0.145], [43.96, 0.142], [44.02, 0.138], [44.08, 0.143], [44.15, 0.141], [44.2, 0.12], [44.24, 0.14], [44.28, 0.13], [44.33, 0.141], [44.36, 0.11], [44.39, 0.099], [44.43, 0.12], [44.47, 0.13], [44.51, 0.128], [44.56, 0.138], [44.61, 0.133], [44.66, 0.14], [44.7, 0.136], [44.74, 0.141], [44.8, 0.138], [44.86, 0.145], [44.92, 0.14], [44.98, 0.145], [45.04, 0.15], [45.1, 0.152],
  [45.35, null],
  [45.6, 0.165], [45.63, 0.163], [45.67, 0.15], [45.7, 0.16], [45.74, 0.145], [45.78, 0.155], [45.81, 0.148], [45.85, 0.14], [45.89, 0.15], [45.93, 0.138], [45.99, 0.096], [46.05, 0.09], [46.1, 0.094], [46.16, 0.092], [46.22, 0.095], [46.28, 0.1], [46.34, 0.096], [46.4, 0.099], [46.46, 0.102], [46.52, 0.098], [46.58, 0.104], [46.64, 0.106], [46.7, 0.095], [46.76, 0.088], [46.82, 0.092], [46.88, 0.095], [46.94, 0.096], [47.0, 0.094], [47.06, 0.095], [47.12, 0.092],
  [47.7, null],
  [48.3, 0.106], [48.34, 0.1], [48.38, 0.11], [48.42, 0.105], [48.46, 0.112], [48.5, 0.108], [48.54, 0.117], [48.58, 0.11], [48.62, 0.114], [48.66, 0.11], [48.7, 0.116], [48.74, 0.112], [48.78, 0.113], [48.82, 0.115], [48.86, 0.112], [48.9, 0.116], [48.94, 0.114], [48.98, 0.118], [49.02, 0.117], [49.04, 0.2], [49.05, 0.237], [49.08, 0.22], [49.11, 0.23], [49.14, 0.222],
];

const RED = '#a3172c';
const PURPLE = '#3a2a8c';
const GREEN = '#9fc844';
const WARM = '#ead0b4';
const WARM_WASH = '#fff3e6';
const AXIS = '#1a1a1a';
const TICK_FONT = '"Liberation Sans", Arial, sans-serif';
const BIG_FONT = 'Lato, "Open Sans", sans-serif';

const isIn = (list: number[], v: number) => list.some((t) => Math.abs(t - v) < 1e-6);
const toRows = (pairs: Pair[]) => pairs.map(([a, v]) => ({ a, v }));

const LeftTick = (props: any) => {
  const { x, y, payload, hideTop } = props;
  const v = payload.value as number;
  const major = isIn(marLabelTicks, v);
  const show = major && !(hideTop && v > 0.79);
  return (
    <g>
      <line x1={x} x2={x + (major ? 10 : 5)} y1={y} y2={y} stroke={AXIS} strokeWidth={1} />
      {show && (
        <text x={x - 21} y={y} dy="0.35em" textAnchor="end" fontSize={16} fontFamily={TICK_FONT} fill="#111">
          {v.toFixed(2)}
        </text>
      )}
    </g>
  );
};

const RightTick = (props: any) => {
  const { x, y, payload } = props;
  const major = isIn(marLabelTicks, payload.value);
  return <line x1={x} x2={x - (major ? 10 : 5)} y1={y} y2={y} stroke={AXIS} strokeWidth={1} />;
};

const BottomTick = (props: any) => {
  const { x, y, payload, show28 } = props;
  const v = payload.value as number;
  const major = isIn(ageLabelTicks, v);
  const label = major && (show28 || v > 28.5);
  return (
    <g>
      <line x1={x} x2={x} y1={y} y2={y - (major ? 8 : 5)} stroke={AXIS} strokeWidth={1} />
      {label && (
        <text x={x} y={y + 13} dy="0.35em" textAnchor="middle" fontSize={16} fontFamily={TICK_FONT} fill="#111">
          {v}
        </text>
      )}
    </g>
  );
};

const TopTick = (props: any) => {
  const { x, y, payload } = props;
  const major = isIn(ageLabelTicks, payload.value);
  return <line x1={x} x2={x} y1={y} y2={y + (major ? 7 : 5)} stroke={AXIS} strokeWidth={1} />;
};

const Diamond = (props: any) => {
  const { cx, cy } = props;
  if (cx == null || cy == null) return null;
  return <path d={`M${cx},${cy - 4.5}L${cx + 3.5},${cy}L${cx},${cy + 4.5}L${cx - 3.5},${cy}Z`} fill={PURPLE} />;
};

interface PanelProps {
  top: number;
  layer: number;
  line: Pair[];
  dots?: Pair[];
  zones: Span[];
  cherts: Span[];
  hideTop: boolean;
  show28: boolean;
}

const Panel = ({ top, layer, line, dots, zones, cherts, hideTop, show28 }: PanelProps) => {
  return (
    <div style={{ position: 'absolute', left: 0, top: top - 10, zIndex: layer }}>
      <ComposedChart width={974} height={415} margin={{ top: 0, right: 0, bottom: 0, left: 0 }}>
        <defs>
          <linearGradient id="eqZone" x1="0" y1="0" x2="0" y2="1">
            <stop offset="0%" stopColor="#a5c8de" />
            <stop offset="55%" stopColor="#cde0ec" />
            <stop offset="100%" stopColor="#fbfdff" />
          </linearGradient>
        </defs>
        <XAxis
          xAxisId="b"
          orientation="bottom"
          type="number"
          dataKey="a"
          domain={[28, 56.4]}
          allowDataOverflow
          ticks={ageTicks}
          interval={0}
          height={30}
          tickSize={0}
          tickMargin={0}
          tickLine={false}
          axisLine={{ stroke: AXIS, strokeWidth: 1.5 }}
          tick={(p: any) => <BottomTick {...p} show28={show28} />}
        />
        <XAxis
          xAxisId="t"
          orientation="top"
          type="number"
          dataKey="a"
          domain={[28, 56.4]}
          allowDataOverflow
          ticks={ageTicks}
          interval={0}
          height={10}
          tickSize={0}
          tickMargin={0}
          tickLine={false}
          axisLine={{ stroke: AXIS, strokeWidth: 1.5 }}
          tick={(p: any) => <TopTick {...p} />}
        />
        <YAxis
          yAxisId="l"
          orientation="left"
          type="number"
          dataKey="v"
          domain={[0, 0.8]}
          allowDataOverflow
          ticks={marTicks}
          interval={0}
          width={173}
          tickSize={0}
          tickMargin={0}
          tickLine={false}
          axisLine={{ stroke: AXIS, strokeWidth: 1.5 }}
          tick={(p: any) => <LeftTick {...p} hideTop={hideTop} />}
        />
        <YAxis
          yAxisId="r"
          orientation="right"
          type="number"
          dataKey="v"
          domain={[0, 0.8]}
          allowDataOverflow
          ticks={marTicks}
          interval={0}
          width={3}
          tickSize={0}
          tickMargin={0}
          tickLine={false}
          axisLine={{ stroke: AXIS, strokeWidth: 1.5 }}
          tick={(p: any) => <RightTick {...p} />}
        />
        {zones.map(([x1, x2], i) => (
          <ReferenceArea key={`z${i}`} xAxisId="b" yAxisId="l" x1={x1} x2={x2} y1={0} y2={0.8} fill="url(#eqZone)" fillOpacity={1} stroke="none" ifOverflow="hidden" />
        ))}
        {cherts.map(([x1, x2], i) => (
          <ReferenceArea key={`c${i}`} xAxisId="b" yAxisId="l" x1={x1} x2={x2} y1={0} y2={0.8} fill={GREEN} fillOpacity={1} stroke="none" ifOverflow="hidden" />
        ))}
        <Line
          xAxisId="b"
          yAxisId="l"
          data={toRows(line)}
          dataKey="v"
          type="linear"
          stroke={RED}
          strokeWidth={1.3}
          dot={false}
          activeDot={false}
          connectNulls={false}
          isAnimationActive={false}
        />
        {dots && (
          <Scatter xAxisId="b" yAxisId="l" data={toRows(dots)} dataKey="v" fill={PURPLE} shape={Diamond} isAnimationActive={false} />
        )}
        {warmEvents.map(([x1, x2], i) => (
          <ReferenceArea key={`w${i}`} className="warm-dk" xAxisId="b" yAxisId="l" x1={x1} x2={x2} y1={0} y2={0.8} fill={WARM} fillOpacity={1} stroke="none" ifOverflow="hidden" zIndex={700} />
        ))}
        {warmEvents.map(([x1, x2], i) => (
          <ReferenceArea key={`ww${i}`} xAxisId="b" yAxisId="l" x1={x1} x2={x2} y1={0} y2={0.8} fill={WARM_WASH} fillOpacity={0.2} stroke="#f7ebde" strokeWidth={1} ifOverflow="hidden" zIndex={710} />
        ))}
      </ComposedChart>
    </div>
  );
};

const Overlay = () => (
  <svg width={974} height={1589} style={{ position: 'absolute', left: 0, top: 0, zIndex: 10, pointerEvents: 'none' }}>
    <defs>
      <linearGradient id="eqKey" x1="0" y1="0" x2="0" y2="1">
        <stop offset="0%" stopColor="#8fbdd4" />
        <stop offset="55%" stopColor="#c9dfeb" />
        <stop offset="100%" stopColor="#ffffff" />
      </linearGradient>
    </defs>
    <g fontFamily={BIG_FONT} fill="#111">
      <text x={347} y={106} fontSize={46}>2</text>
      <text x={217} y={478} fontSize={45}>SITE 1219</text>
      <text x={223} y={843} fontSize={45}>SITE 1220</text>
      <text x={226} y={1208} fontSize={45}>SITE 1221</text>
      <text x={400} y={229} fontSize={36} textAnchor="middle" dominantBaseline="central" transform="rotate(-90 400 229)">chert layers</text>
      <text x={771} y={576} fontSize={36} textAnchor="middle" dominantBaseline="central" transform="rotate(-90 771 576)">chert layers</text>
      <text x={754} y={956} fontSize={36} textAnchor="middle" dominantBaseline="central" transform="rotate(-90 754 956)">chert layers</text>
      <text x={818} y={1314} fontSize={36} textAnchor="middle" dominantBaseline="central" transform="rotate(-90 818 1314)">chert layers</text>
      <rect x={699} y={96} width={59} height={57} fill="url(#eqKey)" stroke="#111" strokeWidth={2} />
      <text x={772} y={118} fontSize={35}>Equatorial</text>
      <text x={772} y={163} fontSize={35}>Zone</text>
      <text x={578} y={1560} fontSize={44} textAnchor="middle" dominantBaseline="central">Age (Ma)</text>
      <text x={37} y={727} fontSize={47} textAnchor="middle" dominantBaseline="central" transform="rotate(-90 37 727)">
        Opal Mass Accumulation Rate (g/cm <tspan dy={-15} fontSize={28}>2</tspan>
        <tspan dy={15}>/Kyr)</tspan>
      </text>
    </g>
  </svg>
);

export default function App() {
  return (
    <div style={{ position: 'absolute', left: 0, top: 0, width: 974, height: 1589, background: '#fff', overflow: 'hidden' }}>
      <style>{'.warm-dk { mix-blend-mode: darken; }'}</style>
      <Panel top={16} layer={4} line={site1218Line} dots={site1218Dots} zones={zone1218} cherts={chert1218} hideTop={false} show28={false} />
      <Panel top={391} layer={3} line={site1219Line} dots={site1219Dots} zones={zone1219} cherts={chert1219} hideTop show28={false} />
      <Panel top={766} layer={2} line={site1220Line} zones={zone1220} cherts={chert1220} hideTop show28={false} />
      <Panel top={1141} layer={1} line={site1221Line} zones={zone1221} cherts={chert1221} hideTop show28 />
      <Overlay />
    </div>
  );
}
